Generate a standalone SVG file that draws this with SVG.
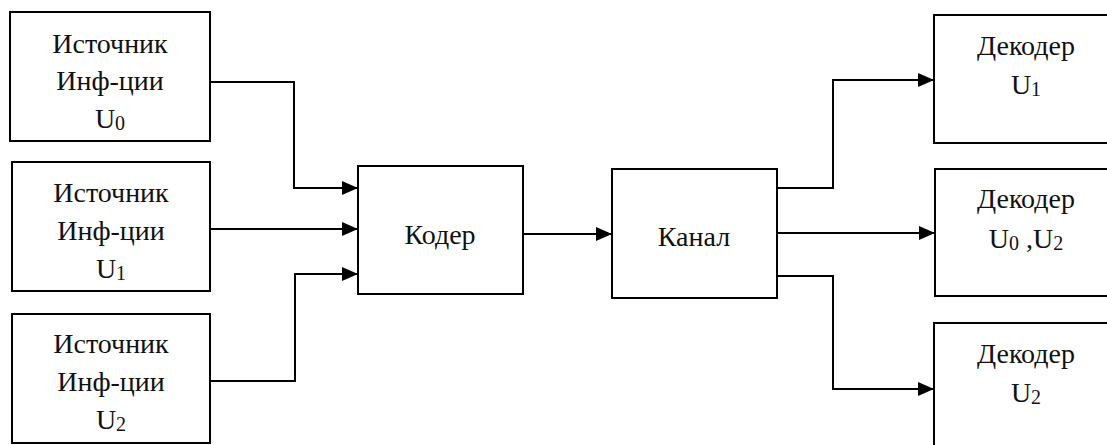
<svg xmlns="http://www.w3.org/2000/svg" width="1107" height="445" viewBox="0 0 1107 445">
  <defs>
    <marker id="arrow" markerWidth="16" markerHeight="14" refX="16" refY="7" orient="auto" markerUnits="userSpaceOnUse">
      <path d="M0,0 L16,7 L0,14 Z" fill="#000"/>
    </marker>
    <style>
      .box { fill: #fff; stroke: #000; stroke-width: 2; }
      .lbl { font-size: 28px; fill: #111; text-anchor: middle; }
      .sub { font-size: 20px; }
      .wire { fill: none; stroke: #000; stroke-width: 2; }
    </style>
  </defs>

  <rect width="1107" height="445" fill="#fff"/>

  <g font-family="Liberation Serif, Times New Roman, Tinos, Noto Serif, DejaVu Serif, serif">
  <g id="src0">
    <rect class="box" x="10" y="12" width="200" height="129"/>
    <text class="lbl" x="110" y="53">Источник</text>
    <text class="lbl" x="110" y="90">Инф-ции</text>
    <text class="lbl" x="110" y="128">U<tspan class="sub" dy="2">0</tspan></text>
  </g>

  <g id="src1">
    <rect class="box" x="12" y="162" width="198" height="129"/>
    <text class="lbl" x="111" y="202">Источник</text>
    <text class="lbl" x="111" y="240">Инф-ции</text>
    <text class="lbl" x="111" y="278">U<tspan class="sub" dy="2">1</tspan></text>
  </g>

  <g id="src2">
    <rect class="box" x="12" y="314" width="198" height="129"/>
    <text class="lbl" x="111" y="353">Источник</text>
    <text class="lbl" x="111" y="391">Инф-ции</text>
    <text class="lbl" x="111" y="429">U<tspan class="sub" dy="2">2</tspan></text>
  </g>

  <g id="coder">
    <rect class="box" x="358" y="166" width="165" height="128"/>
    <text class="lbl" x="440" y="244">Кодер</text>
  </g>

  <g id="channel">
    <rect class="box" x="612" y="169" width="165" height="129"/>
    <text class="lbl" x="694" y="246">Канал</text>
  </g>

  <g id="dec1">
    <rect class="box" x="934" y="15" width="180" height="128"/>
    <text class="lbl" x="1026" y="55">Декодер</text>
    <text class="lbl" x="1026" y="94">U<tspan class="sub" dy="2">1</tspan></text>
  </g>

  <g id="dec02">
    <rect class="box" x="935" y="169" width="180" height="127"/>
    <text class="lbl" x="1026" y="208">Декодер</text>
    <text class="lbl" x="1026" y="248">U<tspan class="sub" dy="2">0</tspan><tspan dy="-2"> ,U</tspan><tspan class="sub" dy="2">2</tspan></text>
  </g>

  <g id="dec2">
    <rect class="box" x="934" y="323" width="180" height="130"/>
    <text class="lbl" x="1026" y="363">Декодер</text>
    <text class="lbl" x="1026" y="402">U<tspan class="sub" dy="2">2</tspan></text>
  </g>
  </g>

  <g id="connectors">
    <path class="wire" d="M210,82 H294 V188 H358" marker-end="url(#arrow)"/>
    <path class="wire" d="M210,229 H358" marker-end="url(#arrow)"/>
    <path class="wire" d="M210,381 H295 V274 H358" marker-end="url(#arrow)"/>
    <path class="wire" d="M523,234 H612" marker-end="url(#arrow)"/>
    <path class="wire" d="M777,188 H833 V80 H934" marker-end="url(#arrow)"/>
    <path class="wire" d="M777,233 H935" marker-end="url(#arrow)"/>
    <path class="wire" d="M777,276 H833 V389 H934" marker-end="url(#arrow)"/>
  </g>
</svg>
